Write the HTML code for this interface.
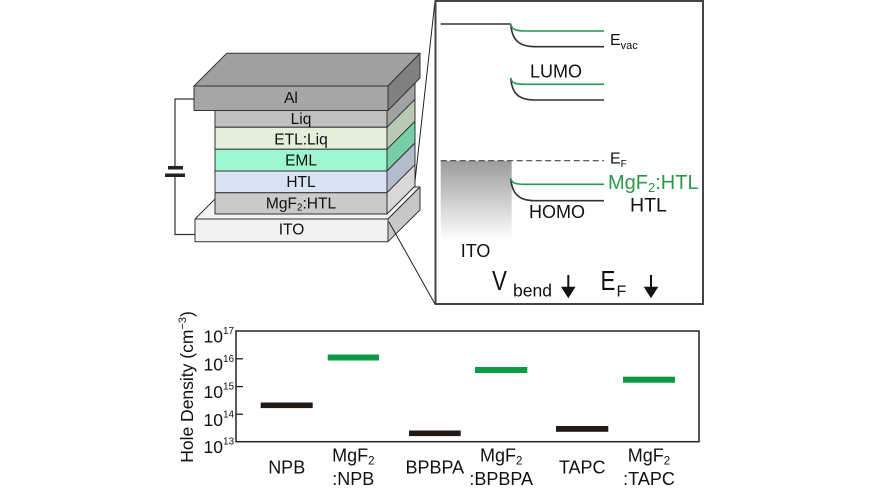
<!DOCTYPE html>
<html>
<head>
<meta charset="utf-8">
<style>
html,body{margin:0;padding:0;background:#fff;}
svg{display:block;}
text{font-family:"Liberation Sans",Arial,sans-serif;}
</style>
</head>
<body>
<svg width="870" height="490" viewBox="0 0 870 490" xmlns="http://www.w3.org/2000/svg">
<defs>
<linearGradient id="itog" x1="0" y1="0" x2="0" y2="1">
<stop offset="0" stop-color="#9c9c9c"/>
<stop offset="1" stop-color="#ffffff"/>
</linearGradient>
</defs>
<rect width="870" height="490" fill="#fff"/>

<!-- circuit -->
<g stroke="#333" stroke-width="1.2" fill="none">
<polyline points="194,99 175,99 175,168"/>
<polyline points="175,175 175,234.5 195,234.5"/>
</g>
<rect x="168" y="166" width="15" height="3.5" fill="#222"/>
<rect x="165" y="173.5" width="20" height="3.5" fill="#222"/>

<!-- ITO -->
<g stroke="#333" stroke-width="1" stroke-linejoin="round">
<polygon points="195,219 227,187 420,187 388,219" fill="#f2f2f2"/>
<rect x="195" y="219" width="193" height="22.7" fill="#f2f2f2"/>
<polygon points="388,219 420,187 420,210 388,241.7" fill="#c8c8c8"/>
</g>

<!-- stack layers -->
<g stroke="#333" stroke-width="1" stroke-linejoin="round">
<polygon points="387,110.5 415,82.5 415,99.3 387,127.3" fill="#a2a2a2"/>
<polygon points="387,127.3 415,99.3 415,121.3 387,149.3" fill="#b9c8b1"/>
<polygon points="387,149.3 415,121.3 415,143 387,171" fill="#76cfa6"/>
<polygon points="387,171 415,143 415,164.7 387,192.7" fill="#b5bdcc"/>
<polygon points="387,192.7 415,164.7 415,186 387,214" fill="#d8d8d8"/>
<rect x="215" y="110.5" width="172" height="16.8" fill="#c0c0c0"/>
<rect x="215" y="127.3" width="172" height="22" fill="#e3efdb"/>
<rect x="215" y="149.3" width="172" height="21.7" fill="#9ef7d1"/>
<rect x="215" y="171" width="172" height="21.7" fill="#d9e3f3"/>
<rect x="215" y="192.7" width="172" height="21.3" fill="#cacaca"/>
</g>

<!-- Al -->
<g stroke="#333" stroke-width="1" stroke-linejoin="round">
<polygon points="194,86 226.7,53.3 420,53.3 388,86" fill="#a0a0a0"/>
<rect x="194" y="86" width="194" height="24.5" fill="#a6a6a6"/>
<polygon points="388,86 420,53.3 420,78 388,110.5" fill="#808080"/>
</g>

<g font-size="15.5" fill="#111" text-anchor="middle">
<text x="291" y="103">Al</text>
<text x="301" y="124">Liq</text>
<text x="301" y="144.5">ETL:Liq</text>
<text x="301" y="165.5">EML</text>
<text x="301" y="187">HTL</text>
<text x="301" y="208.5">MgF<tspan font-size="10" dy="2">2</tspan><tspan dy="-2">:HTL</tspan></text>
<text x="291.5" y="234.5">ITO</text>
</g>

<!-- zoom lines -->
<g stroke="#222" stroke-width="1" fill="none">
<line x1="415" y1="181" x2="435" y2="1"/>
<line x1="389" y1="222" x2="435" y2="304"/>
</g>

<!-- box -->
<rect x="435.5" y="1" width="267.5" height="303" fill="none" stroke="#444" stroke-width="2"/>

<!-- ITO gradient -->
<rect x="440.7" y="160.7" width="71" height="80" fill="url(#itog)"/>

<!-- energy lines -->
<g fill="none" stroke-width="1.6">
<path d="M440.7,24 H510.7" stroke="#333"/>
<path d="M510.7,24 C512,40 519,46.7 535,46.7 H604" stroke="#333"/>
<path d="M510.7,24 C511.5,29 515,31 525,31 H604" stroke="#1f9a50"/>
<path d="M510.7,78 C512,94 519,100 535,100 H604" stroke="#333"/>
<path d="M510.7,78 C511.5,83 515,84.3 525,84.3 H604" stroke="#1f9a50"/>
<path d="M510.7,178.3 C512,194 519,200.7 535,200.7 H604" stroke="#333"/>
<path d="M510.7,178.3 C511.5,183 515,184.3 525,184.3 H604" stroke="#1f9a50"/>
</g>
<line x1="440.7" y1="160.7" x2="604" y2="160.7" stroke="#444" stroke-width="1.2" stroke-dasharray="6,3.5"/>

<g fill="#111">
<text x="610" y="45" font-size="16">E<tspan font-size="11" dy="4">vac</tspan></text>
<text x="610" y="163.5" font-size="16">E<tspan font-size="10" dy="3.5">F</tspan></text>
<text x="530" y="77.5" font-size="18">LUMO</text>
<text x="529" y="218" font-size="18">HOMO</text>
<text x="460.7" y="257" font-size="18">ITO</text>
<text x="630" y="211.5" font-size="19.5">HTL</text>
</g>
<text x="608" y="189" font-size="20" fill="#2a9a4a">MgF<tspan font-size="13" dy="3">2</tspan><tspan dy="-3">:HTL</tspan></text>

<!-- V_bend & E_F -->
<g fill="#111">
<text transform="translate(492,290) scale(0.8,1)" font-size="28">V</text>
<text x="513" y="296.5" font-size="17.5">bend</text>
<text transform="translate(600.5,290) scale(0.8,1)" font-size="28">E</text>
<text x="616.5" y="296.5" font-size="16">F</text>
</g>
<g fill="#111" stroke="#111">
<line x1="568.3" y1="275" x2="568.3" y2="288" stroke-width="2"/>
<polygon points="561,286.7 575.6,286.7 568.3,298.3" stroke="none"/>
<line x1="651" y1="275" x2="651" y2="288" stroke-width="2"/>
<polygon points="643.7,286.7 658.3,286.7 651,298.3" stroke="none"/>
</g>

<!-- chart axes -->
<rect x="236" y="331" width="463" height="110.7" fill="none" stroke="#222" stroke-width="1.5"/>
<g stroke="#222" stroke-width="1.3">
<line x1="236" y1="358.8" x2="243" y2="358.8"/>
<line x1="236" y1="386.6" x2="243" y2="386.6"/>
<line x1="236" y1="414.3" x2="243" y2="414.3"/>
</g>
<g fill="#111" font-size="17.5">
<text x="203.5" y="342.5">10<tspan font-size="10" x="223" y="334">17</tspan></text>
<text x="203.5" y="370.3">10<tspan font-size="10" x="223" y="361.8">16</tspan></text>
<text x="203.5" y="398.1">10<tspan font-size="10" x="223" y="389.6">15</tspan></text>
<text x="203.5" y="425.8">10<tspan font-size="10" x="223" y="417.3">14</tspan></text>
<text x="203.5" y="453.2">10<tspan font-size="10" x="223" y="444.7">13</tspan></text>
</g>
<text transform="translate(193,387) rotate(-90)" text-anchor="middle" font-size="17.5" fill="#111">Hole Density (cm<tspan font-size="11" dy="-7">−3</tspan><tspan dy="7">)</tspan></text>

<!-- bars -->
<g fill="#231815">
<rect x="260.7" y="402.5" width="52" height="5.6"/>
<rect x="409" y="430.5" width="51.7" height="5.6"/>
<rect x="556" y="426" width="52.3" height="5.8"/>
</g>
<g fill="#0c9a47">
<rect x="327.7" y="354.5" width="51.3" height="6"/>
<rect x="475" y="367" width="52.3" height="6"/>
<rect x="623" y="376.7" width="52" height="6"/>
</g>

<!-- x labels -->
<g fill="#111" font-size="18" text-anchor="middle">
<text x="286.7" y="473.3">NPB</text>
<text x="353.3" y="461.7">MgF<tspan font-size="11.5" dy="3">2</tspan></text>
<text x="353.3" y="485">:NPB</text>
<text x="434.8" y="473.3">BPBPA</text>
<text x="501.2" y="461.7">MgF<tspan font-size="11.5" dy="3">2</tspan></text>
<text x="501.2" y="485">:BPBPA</text>
<text x="582.2" y="473.3">TAPC</text>
<text x="649" y="461.7">MgF<tspan font-size="11.5" dy="3">2</tspan></text>
<text x="649" y="485">:TAPC</text>
</g>
</svg>
</body>
</html>
